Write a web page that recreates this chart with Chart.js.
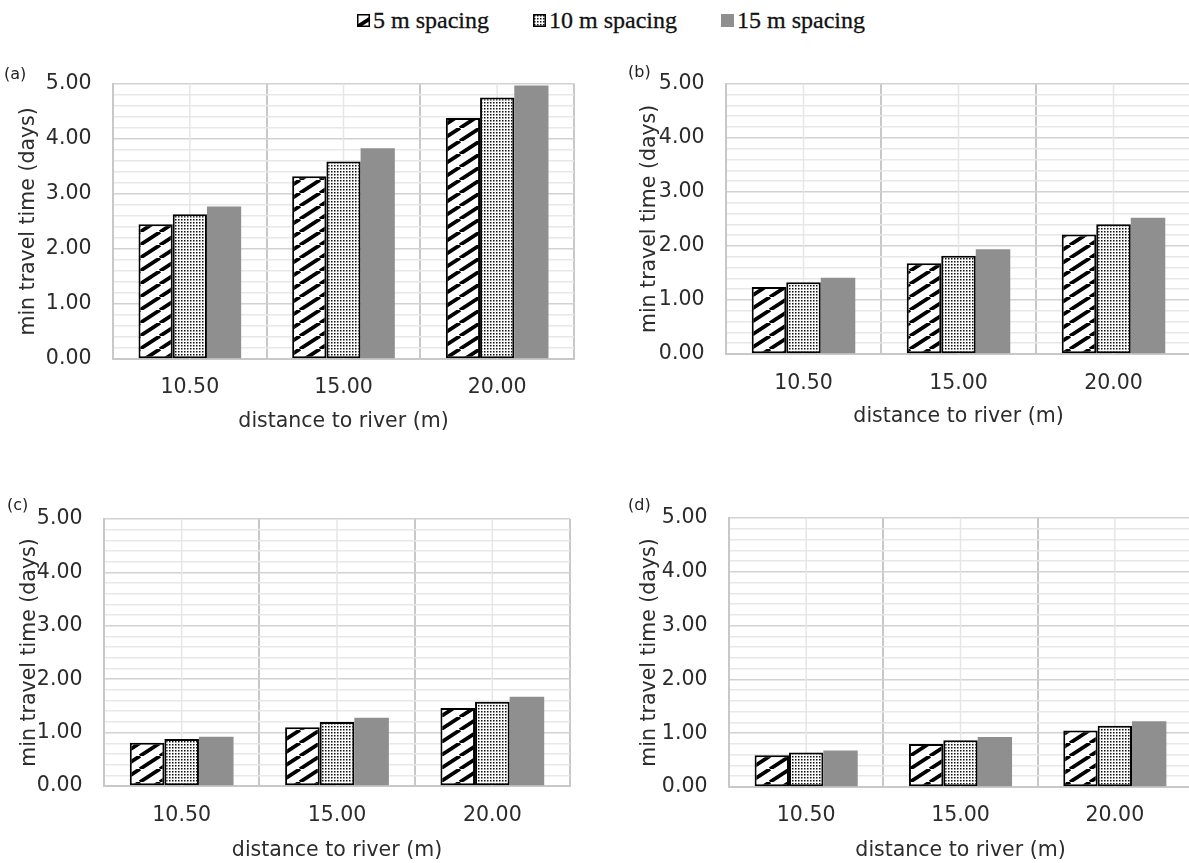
<!DOCTYPE html>
<html><head><meta charset="utf-8">
<script src="https://cdn.jsdelivr.net/npm/chart.js@4.4.1/dist/chart.umd.min.js"></script>
<style>
html,body{margin:0;padding:0;background:#fff;width:1189px;height:863px;overflow:hidden;position:relative;}
canvas.panel{position:absolute;}
.lbl{position:absolute;font-family:"DejaVu Sans";font-size:16px;color:#222;line-height:1;}
#legend{position:absolute;left:357px;top:8px;height:24px;display:flex;align-items:center;gap:44px;}
.item{display:flex;align-items:center;gap:3px;}
.leg{font-family:"Liberation Serif";font-size:24px;line-height:1;color:#111;white-space:nowrap;-webkit-text-stroke:0.3px #111;}
</style></head><body>
<div id="legend">
  <div class="item"><canvas id="sw0" width="13" height="13"></canvas><span class="leg" id="lg0"></span></div>
  <div class="item"><canvas id="sw1" width="13" height="13"></canvas><span class="leg" id="lg1"></span></div>
  <div class="item"><canvas id="sw2" width="13" height="13"></canvas><span class="leg" id="lg2"></span></div>
</div>
<canvas class="panel" id="pa"></canvas>
<canvas class="panel" id="pb"></canvas>
<canvas class="panel" id="pc"></canvas>
<canvas class="panel" id="pd"></canvas>
<div class="lbl" id="la">(a)</div>
<div class="lbl" id="lb">(b)</div>
<div class="lbl" id="lc">(c)</div>
<div class="lbl" id="ld">(d)</div>
<script>
// ---- data ----
const categories = ['10.50', '15.00', '20.00'];
const seriesNames = ['5 m spacing', '10 m spacing', '15 m spacing'];
const xTitle = 'distance to river (m)';
const yTitle = 'min travel time (days)';
const yMajorTicks = [0, 1, 2, 3, 4, 5];

const a5 = [2.45, 3.32, 4.38];
const a10 = [2.63, 3.59, 4.75];
const a15 = [2.77, 3.83, 4.97];

const b5 = [1.24, 1.68, 2.21];
const b10 = [1.33, 1.82, 2.40];
const b15 = [1.41, 1.94, 2.52];

const c5 = [0.81, 1.10, 1.46];
const c10 = [0.88, 1.20, 1.58];
const c15 = [0.92, 1.28, 1.67];

const d5 = [0.59, 0.80, 1.05];
const d10 = [0.64, 0.87, 1.14];
const d15 = [0.68, 0.93, 1.22];

// ---- layout (page pixels) ----
const L = {
  a: {cx: 0,   cy: 50,  cw: 590, ch: 400, plotL: 113, plotR: 574,  plotT: 81,  plotB: 359, yTitleX: 29,  xTickY: 388, xTitleY: 422},
  b: {cx: 590, cy: 50,  cw: 610, ch: 400, plotL: 726, plotR: 1191, plotT: 81,  plotB: 354, yTitleX: 650, xTickY: 384, xTitleY: 417},
  c: {cx: 0,   cy: 470, cw: 590, ch: 393, plotL: 104, plotR: 570,  plotT: 519, plotB: 786, yTitleX: 30,  xTickY: 816, xTitleY: 851},
  d: {cx: 590, cy: 470, cw: 610, ch: 393, plotL: 729, plotR: 1192, plotT: 518, plotB: 787, yTitleX: 650, xTickY: 816, xTitleY: 851}
};

const FS = 20.5, LH = FS * 1.2;
const FONT = {family: 'DejaVu Sans', size: FS};
const TXT = '#2c2c2c';

function makeStripe(g0) {
  const c = document.createElement('canvas'); c.width = 20; c.height = 13;
  const g = c.getContext('2d');
  g.fillStyle = '#ffffff'; g.fillRect(0, 0, 20, 13);
  g.strokeStyle = '#000000'; g.lineWidth = 3.8;
  g.beginPath();
  for (let k = -1; k <= 1; k++) { g.moveTo(k * 20, 13); g.lineTo(k * 20 + 20, 0); }
  g.stroke();
  return g0.createPattern(c, 'repeat');
}
function makeDots(g0) {
  const c = document.createElement('canvas'); c.width = 3; c.height = 3;
  const g = c.getContext('2d');
  g.fillStyle = '#fbfbfb'; g.fillRect(0, 0, 3, 3);
  g.fillStyle = '#111111'; g.fillRect(1, 1, 1.5, 1.5);
  return g0.createPattern(c, 'repeat');
}
const isMajor = v => yMajorTicks.some(t => Math.abs(t - v) < 1e-6);

const minorV = {
  id: 'minorV',
  beforeDatasetsDraw(chart) {
    const {ctx, chartArea: a, scales: {x}} = chart;
    ctx.save();
    ctx.strokeStyle = '#e6e6e6'; ctx.lineWidth = 1.5;
    categories.forEach((c, i) => {
      const px = x.getPixelForValue(i);
      ctx.beginPath(); ctx.moveTo(px, a.top); ctx.lineTo(px, a.bottom); ctx.stroke();
    });
    ctx.restore();
  }
};

function makeChart(id, p, s5, s10, s15) {
  const cv = document.getElementById(id);
  cv.width = p.cw; cv.height = p.ch;
  cv.style.left = p.cx + 'px'; cv.style.top = p.cy + 'px';
  const g = cv.getContext('2d');
  const xH = p.xTitleY + LH / 2 - p.plotB;
  new Chart(g, {
    type: 'bar',
    data: {
      labels: categories,
      datasets: [
        {label: seriesNames[0], data: s5, backgroundColor: makeStripe(g), borderColor: '#000', borderWidth: 2, borderSkipped: false},
        {label: seriesNames[1], data: s10, backgroundColor: makeDots(g), borderColor: '#000', borderWidth: 2, borderSkipped: false},
        {label: seriesNames[2], data: s15, backgroundColor: '#8f8f8f', borderWidth: 0}
      ]
    },
    options: {
      responsive: false, animation: false, devicePixelRatio: 1,
      layout: {padding: {left: 0, top: p.plotT - p.cy, right: p.cx + p.cw - p.plotR, bottom: p.cy + p.ch - (p.plotB + xH)}},
      plugins: {legend: {display: false}, tooltip: {enabled: false}},
      datasets: {bar: {categoryPercentage: 0.668, barPercentage: 1}},
      scales: {
        x: {
          type: 'category', offset: true,
          grid: {offset: true, color: '#c8c8c8', lineWidth: 2, drawTicks: false},
          border: {color: '#c8c8c8', width: 2},
          ticks: {font: FONT, color: TXT, padding: p.xTickY - p.plotB - LH / 2, maxRotation: 0},
          title: {display: true, text: xTitle, font: FONT, color: TXT, padding: {top: 0, bottom: 0}},
          afterFit: s => { s.height = xH; }
        },
        y: {
          min: 0, max: 5,
          ticks: {stepSize: 0.2, autoSkip: false, font: FONT, color: TXT, padding: 21.5,
                  callback: v => isMajor(v) ? Number(v).toFixed(2) : ''},
          grid: {color: c => (c.tick && isMajor(c.tick.value)) ? '#d2d2d2' : '#e8e8e8', lineWidth: 1.5, drawTicks: false},
          border: {color: '#c8c8c8', width: 2},
          title: {display: true, text: yTitle, font: FONT, color: TXT, padding: {top: p.yTitleX - p.cx - LH / 2, bottom: 0}},
          afterFit: s => { s.width = p.plotL - p.cx; }
        }
      }
    },
    plugins: [minorV]
  });
}

makeChart('pa', L.a, a5, a10, a15);
makeChart('pb', L.b, b5, b10, b15);
makeChart('pc', L.c, c5, c10, c15);
makeChart('pd', L.d, d5, d10, d15);

// panel letters
[['la', 4, 66], ['lb', 628, 64], ['lc', 7, 497], ['ld', 628, 497]].forEach(([id, x, y]) => {
  const e = document.getElementById(id); e.style.left = x + 'px'; e.style.top = y + 'px';
});

// legend
const fills = [g => makeStripe(g), g => makeDots(g), g => '#8f8f8f'];
seriesNames.forEach((n, i) => {
  const sw = document.getElementById('sw' + i);
  const g = sw.getContext('2d');
  g.fillStyle = fills[i](g); g.fillRect(0, 0, 13, 13);
  if (i < 2) { g.strokeStyle = '#000'; g.lineWidth = 1.5; g.strokeRect(0.75, 0.75, 11.5, 11.5); }
  document.getElementById('lg' + i).textContent = n;
});
</script>
</body></html>
